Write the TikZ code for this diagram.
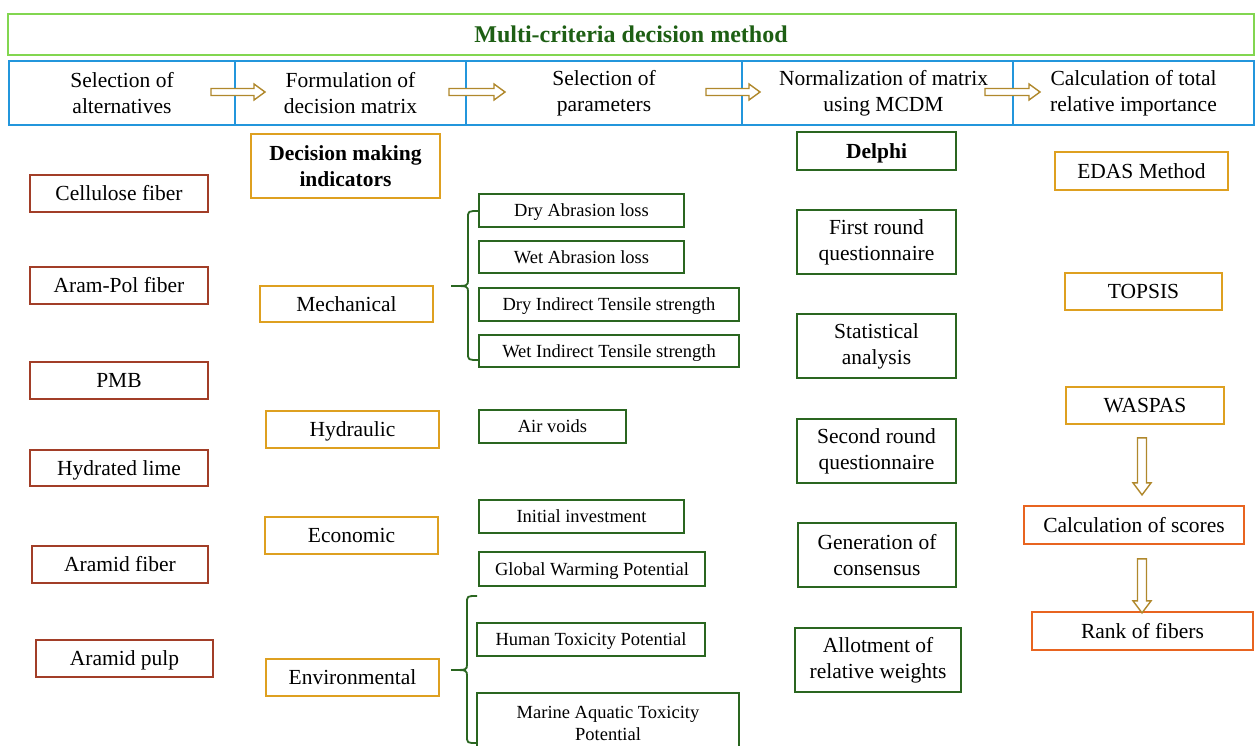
\documentclass[tikz,border=0pt]{standalone}
\usepackage{fontspec}
\setmainfont{Liberation Serif}
\usetikzlibrary{calc}
\definecolor{ttlgreen}{RGB}{130,214,80}
\definecolor{ttltext}{RGB}{30,95,20}
\definecolor{hdrblue}{RGB}{35,150,220}
\definecolor{arrowcol}{RGB}{176,136,44}
\definecolor{altred}{RGB}{162,62,40}
\definecolor{indgold}{RGB}{222,160,32}
\definecolor{pargreen}{RGB}{42,102,32}
\definecolor{resorange}{RGB}{232,100,32}
\tikzset{
  base/.style={draw, line width=1.8pt, fill=white, inner sep=0pt, align=center,
    font=\fontsize{21.5}{26}\selectfont},
  oneline/.style={text height=15pt, text depth=0.4pt},
  onesmall/.style={text height=13pt, text depth=0.6pt},
  alt/.style={base, oneline, draw=altred},
  indm/.style={base, draw=indgold},
  ind/.style={indm, oneline},
  parm/.style={base, draw=pargreen, font=\fontsize{18.5}{22}\selectfont},
  parbox/.style={parm, onesmall},
  del/.style={base, draw=pargreen},
  dels/.style={del, oneline},
  res/.style={base, oneline, draw=resorange},
  hdr/.style={base, draw=hdrblue, line width=2pt},
  ttl/.style={base, draw=ttlgreen, line width=2.2pt, text=ttltext,
    text height=17pt, text depth=1pt,
    font=\fontsize{24}{28}\selectfont\bfseries},
  harrow/.style={draw=arrowcol, line width=1.4pt, fill=white, line join=miter},
  bracepath/.style={draw=pargreen, line width=1.8pt},
}
\newcommand\bx[7]{\node[#1, minimum width={#5-#3}, minimum height={#6-#4}] (#2) at ({(#3+#5)/2},{(#4+#6)/2}) {#7};}
% right-pointing hollow arrow: x1 x2 y
\newcommand\hollowR[3]{\draw[harrow] (#1,#3-3.5) -- (#2-11,#3-3.5) -- (#2-11,#3-8) -- (#2,#3) -- (#2-11,#3+8) -- (#2-11,#3+3.5) -- (#1,#3+3.5) -- cycle;}
% downward hollow arrow between two named coordinates
\newcommand\hollowD[2]{\draw[harrow] ($(#1)+(-4.5,0)$) -- ($(#2)+(-4.5,-12)$) -- ($(#2)+(-9,-12)$) -- (#2) -- ($(#2)+(9,-12)$) -- ($(#2)+(4.5,-12)$) -- ($(#1)+(4.5,0)$) -- cycle;}
% left curly brace: x ytop ymid ybot xtip xleft
\newcommand\leftbr[6]{\draw[bracepath] (#5,#2) .. controls (#1,#2) .. (#1,#2+7) -- (#1,#3-6) .. controls (#1,#3) .. (#6,#3) .. controls (#1,#3) .. (#1,#3+6) -- (#1,#4-7) .. controls (#1,#4) .. (#5,#4);}
\begin{document}
\begin{tikzpicture}[x=1pt,y=-1pt]
\useasboundingbox (0,0) rectangle (1255,745);
% title
\bx{ttl}{title}{8}{14}{1254}{55}{Multi-criteria decision method}
% header
\bx{hdr}{h1}{9}{61}{235}{125}{Selection of\\alternatives}
\bx{hdr}{h2}{235}{61}{466}{125}{Formulation of\\decision matrix}
\bx{hdr}{h3}{466}{61}{742}{125}{Selection of\\parameters}
\bx{hdr}{h4}{742}{61}{1013}{125}{\hspace*{12pt}Normalization of matrix\\\hspace*{12pt}using MCDM}
\bx{hdr}{h5}{1013}{61}{1254}{125}{Calculation of total\\relative importance}
\hollowR{211}{265}{92}
\hollowR{449}{505}{92}
\hollowR{706}{760}{92}
\hollowR{985}{1040}{92}
% alternatives
\bx{alt}{a1}{30}{175}{208}{212}{Cellulose fiber}
\bx{alt}{a2}{30}{267}{208}{304}{Aram-Pol fiber}
\bx{alt}{a3}{30}{362}{208}{399}{PMB}
\bx{alt}{a4}{30}{450}{208}{486}{Hydrated lime}
\bx{alt}{a5}{32}{546}{208}{583}{Aramid fiber}
\bx{alt}{a6}{36}{640}{213}{677}{Aramid pulp}
% indicators
\bx{indm}{i0}{251}{134}{440}{198}{\bfseries Decision making\\\bfseries indicators}
\bx{ind}{i1}{260}{286}{433}{322}{Mechanical}
\bx{ind}{i2}{266}{411}{439}{448}{Hydraulic}
\bx{ind}{i3}{265}{517}{438}{554}{Economic}
\bx{ind}{i4}{266}{659}{439}{696}{Environmental}
% parameters
\bx{parbox}{p1}{479}{194}{684}{227}{Dry Abrasion loss}
\bx{parbox}{p2}{479}{241}{684}{273}{Wet Abrasion loss}
\bx{parbox}{p3}{479}{288}{739}{321}{Dry Indirect Tensile strength}
\bx{parbox}{p4}{479}{335}{739}{367}{Wet Indirect Tensile strength}
\bx{parbox}{p5}{479}{410}{626}{443}{Air voids}
\bx{parbox}{p6}{479}{500}{684}{533}{Initial investment}
\bx{parbox}{p7}{479}{552}{705}{586}{Global Warming Potential}
\bx{parbox}{p8}{477}{623}{705}{656}{Human Toxicity Potential}
\bx{parm}{p9}{477}{693}{739}{753}{Marine Aquatic Toxicity\\Potential}
\leftbr{468}{211}{286}{360}{479}{451}
\leftbr{467}{596}{670}{743}{477}{451}
% Delphi
\bx{dels}{d0}{797}{132}{956}{170}{\bfseries Delphi}
\bx{del}{d1}{797}{210}{956}{274}{First round\\questionnaire}
\bx{del}{d2}{797}{314}{956}{378}{Statistical\\analysis}
\bx{del}{d3}{797}{419}{956}{483}{Second round\\questionnaire}
\bx{del}{d4}{798}{523}{956}{587}{Generation of\\consensus}
\bx{del}{d5}{795}{628}{961}{692}{Allotment of\\relative weights}
% methods
\bx{ind}{m1}{1055}{152}{1228}{190}{EDAS Method}
\bx{ind}{m2}{1065}{273}{1222}{310}{TOPSIS}
\bx{ind}{m3}{1066}{387}{1224}{424}{WASPAS}
\bx{res}{r1}{1024}{506}{1244}{544}{Calculation of scores}
\bx{res}{r2}{1032}{612}{1253}{650}{Rank of fibers}
\coordinate (s1) at ($(m3.south)+(-3,13)$);
\coordinate (e1) at ($(m3.south)+(-3,70)$);
\coordinate (s2) at ($(r1.south)+(8,14)$);
\coordinate (e2) at ($(r1.south)+(8,68)$);
\hollowD{s1}{e1}
\hollowD{s2}{e2}
\end{tikzpicture}
\end{document}
